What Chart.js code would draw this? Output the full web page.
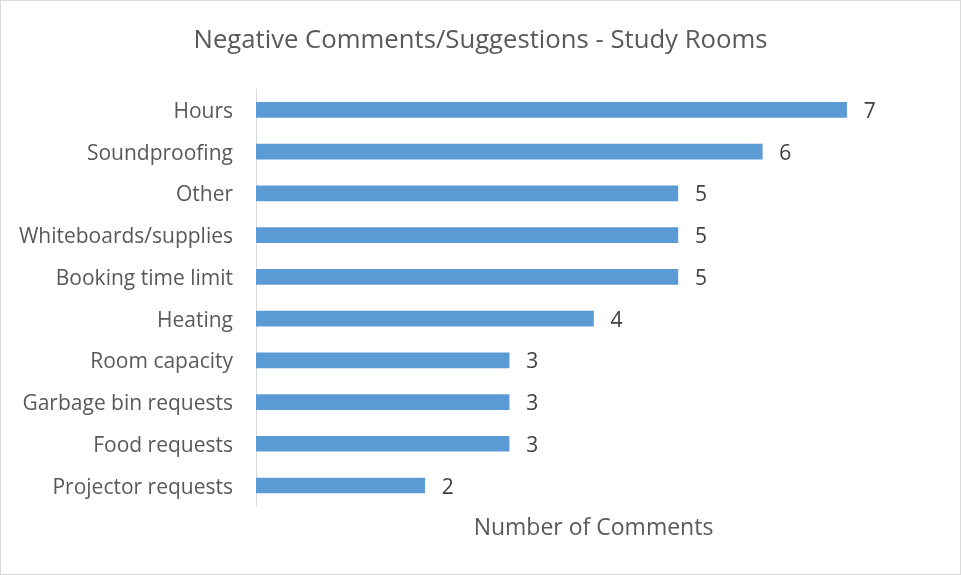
<!DOCTYPE html>
<html>
<head>
<meta charset="utf-8">
<script src="https://cdn.jsdelivr.net/npm/chart.js@4/dist/chart.umd.min.js"></script>
<style>
  body { margin: 0; background: #fff; }
</style>
</head>
<body>
<canvas id="mycanvas" width="961" height="575"></canvas>
<script>
var categories = ["Hours", "Soundproofing", "Other", "Whiteboards/supplies", "Booking time limit",
  "Heating", "Room capacity", "Garbage bin requests", "Food requests", "Projector requests"];
var comments = [7, 6, 5, 5, 5, 4, 3, 3, 3, 2];
var chartTitle = "Negative Comments/Suggestions - Study Rooms";
var xTitle = "Number of Comments";

var FONT = "'Open Sans', sans-serif";

// value labels at the end of each bar
var barLabels = {
  id: "barLabels",
  afterDatasetsDraw: function(chart) {
    var ctx = chart.ctx;
    var meta = chart.getDatasetMeta(0);
    ctx.save();
    ctx.font = "21px " + FONT;
    ctx.fillStyle = "#404040";
    ctx.textAlign = "left";
    ctx.textBaseline = "alphabetic";
    meta.data.forEach(function(bar, i) {
      ctx.fillText(comments[i], bar.x + 17, bar.y + 8);
    });
    ctx.restore();
  }
};

// title centred on the whole canvas, plus a light frame
var frame = {
  id: "frame",
  afterDraw: function(chart) {
    var ctx = chart.ctx;
    ctx.save();
    ctx.font = "25.7px " + FONT;
    ctx.fillStyle = "#595959";
    ctx.textAlign = "center";
    ctx.textBaseline = "alphabetic";
    ctx.fillText(chartTitle, chart.width / 2, 48);
    ctx.strokeStyle = "#d9d9d9";
    ctx.lineWidth = 1;
    ctx.strokeRect(0.5, 0.5, chart.width - 1, chart.height - 1);
    ctx.restore();
  }
};

var ctx = document.getElementById("mycanvas");

var chart = new Chart(ctx, {
  type: "bar",
  data: {
    labels: categories,
    datasets: [{
      data: comments,
      backgroundColor: "#5B9BD5",
      borderWidth: 0,
      barThickness: 15
    }]
  },
  options: {
    indexAxis: "y",
    responsive: false,
    animation: false,
    layout: { padding: { left: 0, right: 30, top: 89, bottom: 0 } },
    plugins: {
      legend: { display: false },
      tooltip: { enabled: false },
      title: { display: false }
    },
    scales: {
      x: {
        min: 0,
        max: 8,
        ticks: { display: false },
        grid: { display: false, drawTicks: false },
        border: { display: false },
        title: {
          display: true,
          text: xTitle,
          color: "#595959",
          font: { family: FONT, size: 23 },
          padding: { top: 8, bottom: 33 }
        }
      },
      y: {
        afterFit: function(scale) { scale.width = 256; },
        grid: { display: false, drawTicks: false },
        border: { display: true, color: "#d9d9d9", width: 1 },
        ticks: {
          color: "#595959",
          padding: 23,
          labelOffset: 2,
          font: { family: FONT, size: 21 }
        }
      }
    }
  },
  plugins: [barLabels, frame]
});
</script>
</body>
</html>
